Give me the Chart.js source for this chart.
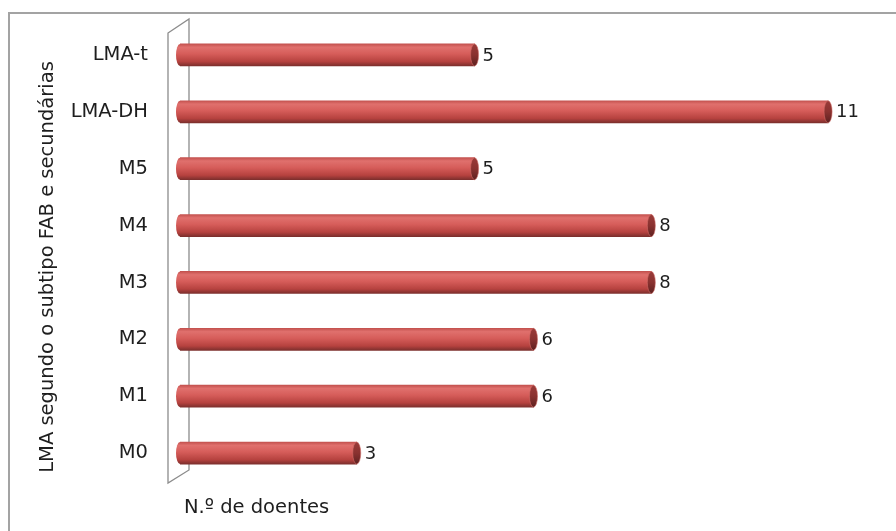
<!DOCTYPE html>
<html>
<head>
<meta charset="utf-8">
<script src="https://cdn.jsdelivr.net/npm/chart.js@4.4.1/dist/chart.umd.min.js"></script>
<style>
    html, body { margin: 0; padding: 0; background: #fff; }
    #caixa { width: 896px; height: 531px; position: relative; }
</style>
</head>
<body>
<div id="caixa"><canvas id="grafico"></canvas></div>
<script>
// Dados do gráfico
const categorias = ['LMA-t', 'LMA-DH', 'M5', 'M4', 'M3', 'M2', 'M1', 'M0'];
const doentes = [5, 11, 5, 8, 8, 6, 6, 3];
const tituloEixoY = 'LMA segundo o subtipo FAB e secundárias';
const tituloEixoX = 'N.º de doentes';

const FONTE = '"DejaVu Sans", sans-serif';
const ESPESSURA = 22;

// Gradiente vertical para dar efeito de cilindro a cada barra
function gradienteBarra(chart, y, escuro) {
    const g = chart.ctx.createLinearGradient(0, y - ESPESSURA / 2, 0, y + ESPESSURA / 2);
    if (escuro) {
        g.addColorStop(0, '#9a3b39');
        g.addColorStop(0.5, '#8a3230');
        g.addColorStop(1, '#5e2120');
    } else {
        g.addColorStop(0, '#c4524f');
        g.addColorStop(0.15, '#e0706d');
        g.addColorStop(0.45, '#d65d5a');
        g.addColorStop(0.8, '#b6423f');
        g.addColorStop(1, '#7d2f2d');
    }
    return g;
}

// Moldura exterior e parede lateral em perspetiva
const moldura = {
    id: 'moldura',
    beforeDatasetsDraw(chart) {
        const ctx = chart.ctx;
        const { left, top, bottom } = chart.chartArea;
        ctx.save();
        ctx.strokeStyle = '#a3a3a3';
        ctx.lineWidth = 2;
        ctx.strokeRect(9, 13, 1000, 1000);

        ctx.beginPath();
        ctx.moveTo(left - 12, top + 6.5);
        ctx.lineTo(left + 9, top - 7.5);
        ctx.lineTo(left + 9, bottom - 11.5);
        ctx.lineTo(left - 12, bottom + 1.5);
        ctx.closePath();
        ctx.fillStyle = '#ffffff';
        ctx.fill();
        ctx.strokeStyle = '#8c8c8c';
        ctx.lineWidth = 1.3;
        ctx.stroke();
        ctx.restore();
    }
};

// Tampas das barras e rótulos com os valores
const cilindros = {
    id: 'cilindros',
    afterDatasetsDraw(chart) {
        const ctx = chart.ctx;
        const meta = chart.getDatasetMeta(0);
        ctx.save();
        meta.data.forEach((barra, i) => {
            const r = ESPESSURA / 2;
            // ponta esquerda arredondada
            ctx.beginPath();
            ctx.ellipse(barra.base, barra.y, 4, r, 0, Math.PI / 2, Math.PI * 1.5);
            ctx.fillStyle = gradienteBarra(chart, barra.y, false);
            ctx.fill();
            // tampa direita
            ctx.beginPath();
            ctx.ellipse(barra.x, barra.y, 4, r, 0, 0, Math.PI * 2);
            ctx.fillStyle = gradienteBarra(chart, barra.y, true);
            ctx.fill();
            ctx.strokeStyle = 'rgba(210,110,105,0.7)';
            ctx.lineWidth = 0.8;
            ctx.stroke();

            ctx.fillStyle = '#1e1e1e';
            ctx.font = '18px ' + FONTE;
            ctx.textAlign = 'left';
            ctx.textBaseline = 'middle';
            ctx.fillText(doentes[i], barra.x + 8, barra.y + 1);
        });
        ctx.restore();
    }
};

// Títulos dos eixos
const titulos = {
    id: 'titulos',
    afterDraw(chart) {
        const ctx = chart.ctx;
        const { left, top, bottom } = chart.chartArea;
        ctx.save();
        ctx.fillStyle = '#1e1e1e';
        ctx.font = '19.5px ' + FONTE;
        ctx.textBaseline = 'middle';

        ctx.textAlign = 'left';
        ctx.fillText(tituloEixoX, left + 4, bottom + 26);

        ctx.translate(48, (top + bottom) / 2 + 13);
        ctx.rotate(-Math.PI / 2);
        ctx.textAlign = 'center';
        ctx.fillText(tituloEixoY, 0, 0);
        ctx.restore();
    }
};

const ctx = document.getElementById('grafico').getContext('2d');

window.grafico = new Chart(ctx, {
    type: 'bar',
    data: {
        labels: categorias,
        datasets: [{
            label: tituloEixoX,
            data: doentes,
            barThickness: ESPESSURA,
            borderWidth: 0,
            backgroundColor: (c) => {
                const escala = c.chart.scales.y;
                if (!escala || escala.top === undefined) return '#c0504d';
                return gradienteBarra(c.chart, escala.getPixelForValue(c.dataIndex), false);
            }
        }]
    },
    options: {
        indexAxis: 'y',
        responsive: true,
        maintainAspectRatio: false,
        animation: false,
        layout: {
            padding: { left: 8, top: 26.5, right: 9, bottom: 49.5 }
        },
        plugins: {
            legend: { display: false },
            tooltip: { enabled: false }
        },
        scales: {
            x: {
                display: false,
                min: 0,
                max: 12
            },
            y: {
                grid: { display: false },
                border: { display: false },
                ticks: {
                    padding: 24,
                    color: '#1e1e1e',
                    font: { family: FONTE, size: 19.5 }
                },
                afterFit: (escala) => {
                    escala.width = 172;
                    escala.paddingTop = 0;
                    escala.paddingBottom = 0;
                }
            }
        }
    },
    plugins: [moldura, cilindros, titulos]
});
</script>
</body>
</html>
